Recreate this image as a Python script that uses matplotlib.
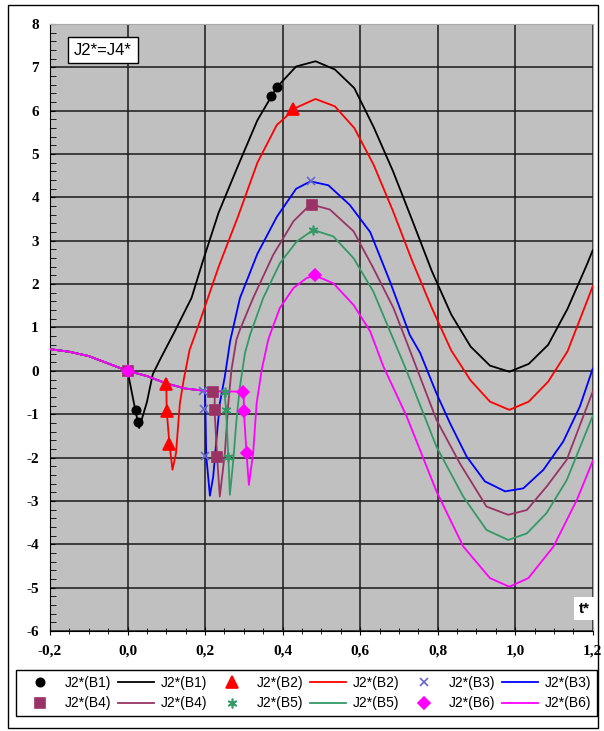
import matplotlib.pyplot as plt
from matplotlib.ticker import MultipleLocator, FuncFormatter
from matplotlib.lines import Line2D
from matplotlib.patches import Rectangle

plt.rcParams['font.family'] = 'Liberation Sans'

# shared part of all curves (before each series branches off)
t_pre = [-0.2, -0.15, -0.1, -0.05, 0.0, 0.05, 0.1, 0.15, 0.2, 0.225, 0.25, 0.3]
v_pre = [0.5, 0.44, 0.34, 0.17, 0.0, -0.12, -0.29, -0.41, -0.46, -0.47, -0.475, -0.48]

# B1
b1_t = [0.02, 0.03, 0.05, 0.065, 0.085, 0.12, 0.165, 0.195, 0.235, 0.285, 0.335, 0.385, 0.435,
        0.485, 0.535, 0.585, 0.635, 0.685, 0.735, 0.785, 0.835, 0.885, 0.935, 0.985, 1.035,
        1.085, 1.135, 1.185, 1.2]
b1_v = [-0.9, -1.32, -0.72, -0.08, 0.28, 0.88, 1.68, 2.55, 3.65, 4.73, 5.78, 6.54, 7.02,
        7.14, 6.95, 6.52, 5.62, 4.6, 3.46, 2.3, 1.3, 0.56, 0.12, -0.02, 0.16,
        0.6, 1.43, 2.45, 2.78]
# B2
b2_t = [0.101, 0.108, 0.116, 0.125, 0.135, 0.145, 0.16, 0.185, 0.235, 0.285, 0.335, 0.385,
        0.435, 0.485, 0.535, 0.585, 0.635, 0.685, 0.735, 0.785, 0.835, 0.885, 0.935, 0.985,
        1.035, 1.085, 1.135, 1.185, 1.2]
b2_v = [-0.92, -1.68, -2.28, -1.9, -0.75, -0.2, 0.48, 1.1, 2.4, 3.56, 4.8, 5.67,
        6.07, 6.27, 6.1, 5.6, 4.75, 3.68, 2.52, 1.45, 0.47, -0.22, -0.71, -0.9,
        -0.71, -0.25, 0.45, 1.6, 1.95]
# B3
b3_t = [0.203, 0.2125, 0.221, 0.23, 0.238, 0.251, 0.265, 0.29, 0.335, 0.385, 0.435, 0.472,
        0.518, 0.573, 0.626, 0.677, 0.728, 0.755, 0.797, 0.832, 0.875, 0.922, 0.974, 1.021,
        1.073, 1.124, 1.167, 1.2]
b3_v = [-1.96, -2.88, -2.44, -1.52, -0.75, -0.13, 0.7, 1.68, 2.7, 3.55, 4.2, 4.37,
        4.28, 3.83, 3.2, 2.06, 0.83, 0.41, -0.52, -1.21, -1.98, -2.55, -2.78, -2.71,
        -2.28, -1.63, -0.82, 0.05]
# B4
b4_t = [0.2245, 0.231, 0.238, 0.251, 0.26, 0.268, 0.281, 0.29, 0.324, 0.376, 0.428, 0.462,
        0.477, 0.522, 0.583, 0.634, 0.686, 0.728, 0.797, 0.857, 0.926, 0.982, 1.03, 1.081,
        1.133, 1.2]
b4_v = [-0.9, -1.98, -2.9, -1.9, -0.75, 0.02, 0.72, 0.95, 1.68, 2.68, 3.45, 3.75,
        3.83, 3.72, 3.22, 2.37, 1.45, 0.48, -1.13, -2.13, -3.13, -3.32, -3.21, -2.67,
        -2.05, -0.48]
# B5
b5_t = [0.254, 0.26, 0.264, 0.273, 0.281, 0.29, 0.303, 0.316, 0.35, 0.393, 0.436, 0.479,
        0.531, 0.583, 0.634, 0.681, 0.719, 0.797, 0.866, 0.926, 0.982, 1.03, 1.081, 1.133, 1.2]
b5_v = [-0.9, -1.98, -2.86, -2.05, -1.13, -0.36, 0.41, 0.83, 1.68, 2.48, 2.98, 3.25,
        3.1, 2.6, 1.83, 0.83, 0.02, -1.75, -2.9, -3.67, -3.9, -3.75, -3.28, -2.52, -1.04]
# B6
b6_t = [0.3, 0.307, 0.313, 0.324, 0.333, 0.346, 0.363, 0.37, 0.393, 0.428, 0.462, 0.483,
        0.531, 0.583, 0.626, 0.66, 0.72, 0.797, 0.866, 0.935, 0.985, 1.034, 1.099, 1.159, 1.2]
b6_v = [-0.92, -1.9, -2.63, -1.9, -0.75, 0.02, 0.72, 0.9, 1.45, 1.91, 2.14, 2.2,
        2.02, 1.52, 0.91, 0.1, -1.05, -2.78, -4.05, -4.78, -4.98, -4.78, -4.05, -2.98, -2.08]

# marker series
m1_t = [0.021, 0.026, 0.37, 0.386]
m1_v = [-0.9, -1.19, 6.35, 6.54]
m2_t = [0.098, 0.101, 0.108, 0.428]
m2_v = [-0.3, -0.92, -1.68, 6.03]
m3_t = [0.195, 0.197, 0.201, 0.472]
m3_v = [-0.46, -0.88, -1.96, 4.37]
m4_t = [0.0, 0.221, 0.2245, 0.231, 0.475]
m4_v = [0.0, -0.48, -0.9, -1.98, 3.83]
m5_t = [0.251, 0.254, 0.26, 0.479]
m5_v = [-0.48, -0.9, -1.98, 3.25]
m6_t = [0.0, 0.2985, 0.3, 0.307, 0.483]
m6_v = [0.0, -0.48, -0.92, -1.9, 2.2]

names = ['J2*(B1)', 'J2*(B2)', 'J2*(B3)', 'J2*(B4)', 'J2*(B5)', 'J2*(B6)']
branch_idx = [4, 6, 8, 9, 10, 11]
line_colors = ['black', '#FF0000', '#0000FF', '#993366', '#339966', '#FF00FF']
marker_colors = ['black', '#FF0000', '#6666CC', '#993366', '#339966', '#FF00FF']
marker_styles = ['o', '^', 'x', 's', (6, 2, 0), 'D']
marker_sizes = [6, 8, 6, 7, 7, 6]

branches = [(b1_t, b1_v), (b2_t, b2_v), (b3_t, b3_v), (b4_t, b4_v), (b5_t, b5_v), (b6_t, b6_v)]
markers = [(m1_t, m1_v), (m2_t, m2_v), (m3_t, m3_v), (m4_t, m4_v), (m5_t, m5_v), (m6_t, m6_v)]

fig = plt.figure(figsize=(6.04, 7.31), dpi=100)
ax = fig.add_axes([0.0828, 0.1368, 0.8985, 0.8304])
ax.set_facecolor('#C0C0C0')

line_h, mark_h = [], []
for i in range(6):
    k = branch_idx[i]
    t = t_pre[:k + 1] + branches[i][0]
    v = v_pre[:k + 1] + branches[i][1]
    l, = ax.plot(t, v, color=line_colors[i], lw=1.3, zorder=3 + i * 0.1)
    line_h.append(l)
for i in range(6):
    m, = ax.plot(markers[i][0], markers[i][1], ls='none', marker=marker_styles[i],
                 color=marker_colors[i], ms=marker_sizes[i], mew=1.2, zorder=5)
    mark_h.append(m)

ax.set_xlim(-0.2, 1.2)
ax.set_ylim(-6, 8)
ax.xaxis.set_major_locator(MultipleLocator(0.2))
ax.xaxis.set_minor_locator(MultipleLocator(0.05))
ax.yaxis.set_major_locator(MultipleLocator(1))
ax.yaxis.set_minor_locator(MultipleLocator(0.2))
ax.xaxis.set_major_formatter(FuncFormatter(lambda x, p: f'{x:.1f}'.replace('.', ',')))
ax.yaxis.set_major_formatter(FuncFormatter(lambda y, p: f'{int(round(y))}'))
ax.grid(True, which='major', color='#1a1a1a', lw=1.1, zorder=1)
ax.set_axisbelow(True)
ax.tick_params(axis='x', which='both', direction='inout', pad=7)
ax.tick_params(axis='x', which='major', length=6)
ax.tick_params(axis='x', which='minor', length=5)
ax.tick_params(axis='y', which='both', direction='in', pad=8)
ax.tick_params(axis='y', which='minor', length=4)
for lab in ax.get_xticklabels() + ax.get_yticklabels():
    lab.set_fontfamily('Liberation Serif')
    lab.set_fontweight('bold')
    lab.set_fontsize(11)
for s in ['top', 'right']:
    ax.spines[s].set_color('#A8A8A8')

ax.text(0.098, 0.957, 'J2*=J4*', transform=ax.transAxes, ha='center', va='center',
        fontsize=12, zorder=6,
        bbox=dict(boxstyle='square,pad=0.35', facecolor='white', edgecolor='black', lw=1))
ax.text(0.985, 0.037, 't*', transform=ax.transAxes, ha='center', va='center',
        fontsize=11, fontweight='bold', zorder=6,
        bbox=dict(boxstyle='square,pad=0.3', facecolor='white', edgecolor='none'))

# legend order so that rows read B1..B3 / B4..B6
handles, labels = [], []
for j in range(3):
    for r in range(2):
        handles.append(mark_h[j + 3 * r])
        labels.append(names[j + 3 * r])
    for r in range(2):
        handles.append(line_h[j + 3 * r])
        labels.append(names[j + 3 * r])
leg = fig.legend(handles, labels, ncol=6, loc='lower left',
                 bbox_to_anchor=(0.0265, 0.0205, 0.962, 0.0725), mode='expand',
                 fancybox=False, edgecolor='black', fontsize=10, handlelength=2.6,
                 borderaxespad=0, framealpha=1, columnspacing=0.8, handletextpad=0.5)
leg.get_frame().set_linewidth(1.0)

fig.patches.append(Rectangle((8 / 604, 3 / 731), 590 / 604, 723 / 731, transform=fig.transFigure,
                             fill=False, edgecolor='black', lw=1))

fig.savefig('out.png', dpi=100)
